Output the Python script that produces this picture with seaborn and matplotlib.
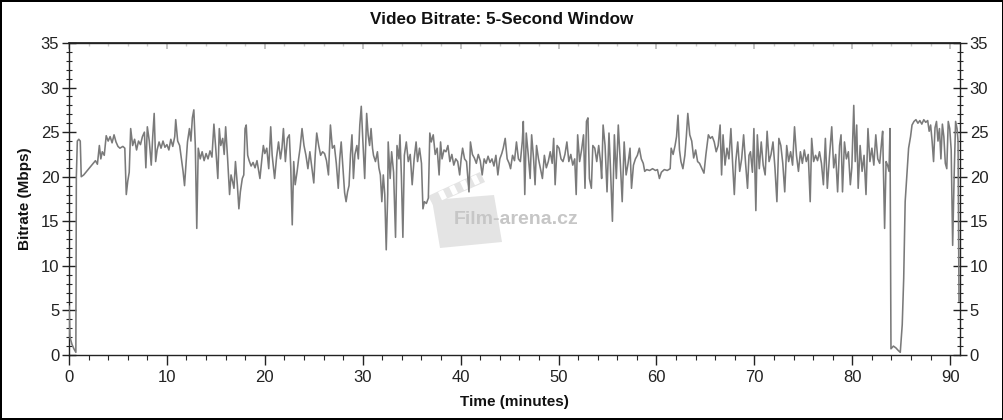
import matplotlib
matplotlib.use("Agg")
import matplotlib.pyplot as plt
from matplotlib.ticker import MultipleLocator
from matplotlib.patches import Polygon
import seaborn as sns
import pandas as pd

# ---- data ----
time_min = [
    0.0, 0.1, 0.3, 0.5, 0.7, 0.75, 0.85, 1.0, 1.15, 1.25, 1.5, 1.8, 2.1, 2.4, 2.7, 2.9,
    3.1, 3.25, 3.4, 3.6, 3.8, 4.0, 4.2, 4.4, 4.6, 4.8, 5.0, 5.2, 5.5, 5.7, 5.85, 6.0,
    6.15, 6.3, 6.5, 6.7, 6.9, 7.1, 7.3, 7.5, 7.7, 7.85, 8.0, 8.2, 8.4, 8.55, 8.7, 8.85,
    9.0, 9.2, 9.4, 9.6, 9.8, 10.0, 10.2, 10.4, 10.6, 10.8, 10.9, 11.1, 11.3, 11.5, 11.65, 11.8,
    11.95, 12.1, 12.3, 12.45, 12.6, 12.75, 12.9, 13.05, 13.2, 13.4, 13.6, 13.8, 14.0, 14.2, 14.4, 14.6,
    14.8, 15.0, 15.2, 15.35, 15.5, 15.7, 15.85, 16.0, 16.2, 16.4, 16.55, 16.7, 16.85, 17.0, 17.2, 17.35,
    17.5, 17.7, 17.85, 17.98, 18.1, 18.25, 18.4, 18.6, 18.8, 19.0, 19.2, 19.4, 19.5, 19.7, 19.85, 20.0,
    20.2, 20.4, 20.6, 20.75, 21.0, 21.2, 21.4, 21.6, 21.75, 21.9, 22.1, 22.3, 22.5, 22.65, 22.8, 22.95,
    23.1, 23.3, 23.45, 23.6, 23.8, 24.0, 24.2, 24.4, 24.6, 24.8, 25.0, 25.15, 25.3, 25.5, 25.7, 25.9,
    26.1, 26.3, 26.5, 26.7, 26.9, 27.1, 27.3, 27.5, 27.65, 27.8, 28.0, 28.15, 28.3, 28.45, 28.6, 28.75,
    28.9, 29.05, 29.2, 29.4, 29.55, 29.7, 29.85, 30.0, 30.2, 30.4, 30.55, 30.7, 30.85, 31.0, 31.1, 31.3,
    31.5, 31.65, 31.8, 31.95, 32.1, 32.25, 32.4, 32.55, 32.6, 32.8, 32.95, 33.15, 33.35, 33.5, 33.7, 33.8,
    33.95, 34.1, 34.25, 34.45, 34.65, 34.85, 35.05, 35.25, 35.45, 35.6, 35.8, 36.0, 36.15, 36.3, 36.5, 36.7,
    36.85, 37.0, 37.2, 37.4, 37.6, 37.8, 37.95, 38.1, 38.3, 38.5, 38.7, 38.9, 39.1, 39.3, 39.5, 39.7,
    39.9, 40.05, 40.2, 40.4, 40.6, 40.85, 41.0, 41.2, 41.4, 41.6, 41.8, 42.0, 42.2, 42.4, 42.6, 42.8,
    43.0, 43.2, 43.4, 43.6, 43.8, 44.0, 44.2, 44.35, 44.55, 44.75, 44.95, 45.1, 45.3, 45.5, 45.7, 45.9,
    46.1, 46.3, 46.4, 46.55, 46.7, 46.9, 47.1, 47.25, 47.45, 47.6, 47.75, 47.95, 48.15, 48.35, 48.55, 48.75,
    48.95, 49.15, 49.35, 49.5, 49.65, 49.85, 50.05, 50.25, 50.45, 50.65, 50.85, 51.05, 51.25, 51.45, 51.65, 51.8,
    51.95, 52.15, 52.35, 52.55, 52.7, 52.85, 53.0, 53.15, 53.35, 53.5, 53.7, 53.9, 54.1, 54.3, 54.4, 54.55,
    54.75, 54.95, 55.15, 55.3, 55.5, 55.7, 55.9, 56.1, 56.3, 56.5, 56.7, 56.9, 57.1, 57.3, 57.45, 57.65,
    57.85, 58.05, 58.25, 58.45, 58.65, 58.8, 59.0, 59.3, 59.6, 59.9, 60.1, 60.3, 60.5, 60.8, 61.1, 61.4,
    61.5, 61.7, 61.9, 62.05, 62.2, 62.35, 62.5, 62.7, 62.9, 63.05, 63.2, 63.4, 63.6, 63.8, 64.0, 64.2,
    64.4, 64.6, 64.85, 65.05, 65.3, 65.5, 65.7, 65.9, 66.1, 66.3, 66.5, 66.65, 66.8, 67.0, 67.2, 67.4,
    67.6, 67.8, 67.95, 68.1, 68.3, 68.5, 68.7, 68.9, 69.1, 69.3, 69.45, 69.6, 69.8, 69.95, 70.15, 70.3,
    70.5, 70.7, 70.9, 71.1, 71.3, 71.5, 71.7, 71.9, 72.1, 72.3, 72.5, 72.7, 72.9, 73.1, 73.3, 73.5,
    73.7, 73.9, 74.1, 74.3, 74.5, 74.7, 74.9, 75.1, 75.3, 75.5, 75.7, 75.85, 76.05, 76.25, 76.45, 76.65,
    76.85, 77.05, 77.25, 77.45, 77.65, 77.9, 78.1, 78.3, 78.5, 78.7, 78.85, 79.0, 79.2, 79.4, 79.6, 79.8,
    79.95, 80.15, 80.3, 80.45, 80.6, 80.8, 81.0, 81.2, 81.4, 81.6, 81.8, 82.0, 82.2, 82.4, 82.6, 82.8,
    83.0, 83.1, 83.3, 83.45, 83.6, 83.75, 83.85, 83.95, 84.2, 84.45, 84.7, 84.9, 85.1, 85.25, 85.4, 85.55,
    85.75, 85.95, 86.1, 86.3, 86.5, 86.7, 86.9, 87.1, 87.3, 87.5, 87.7, 87.85, 88.0, 88.15, 88.3, 88.45,
    88.6, 88.75, 88.9, 89.05, 89.2, 89.35, 89.5, 89.65, 89.8, 89.95, 90.1, 90.25, 90.4, 90.55, 90.7, 90.8,
    90.9,
]
bitrate_mbps = [
    5.5, 2.0, 1.2, 0.7, 0.3, 20.0, 24.0, 24.2, 24.0, 20.0, 20.2, 20.6, 21.0, 21.4, 21.8, 21.4,
    23.5, 22.0, 22.8, 22.4, 24.6, 24.0, 24.5, 23.8, 24.7, 23.9, 23.4, 23.2, 23.4, 23.2, 18.0, 19.5,
    20.5, 25.4, 23.5, 24.2, 23.0, 24.0, 23.6, 24.5, 25.0, 21.0, 25.6, 24.0, 21.3, 24.5, 27.1, 21.7,
    23.0, 23.9, 23.2, 24.0, 23.3, 23.6, 23.0, 24.2, 23.4, 24.5, 26.4, 24.0, 23.5, 21.8, 20.6, 19.0,
    21.5, 23.9, 25.4, 24.0, 26.6, 27.5, 23.5, 14.2, 23.2, 22.0, 22.8, 21.8, 22.6, 22.0, 22.9, 22.2,
    25.9, 23.0, 19.8, 25.4, 23.5, 24.3, 22.5, 25.6, 22.0, 18.0, 20.2, 19.5, 18.7, 21.7, 19.0, 16.4,
    18.3, 19.8, 20.2, 25.4, 25.8, 22.4, 21.8, 21.2, 21.6, 21.0, 21.8, 20.5, 19.8, 22.0, 23.5, 22.6,
    23.2, 20.9, 25.6, 22.4, 19.8, 22.2, 23.9, 22.0, 23.2, 25.4, 21.7, 24.3, 24.7, 21.0, 14.6, 21.7,
    19.1, 20.6, 22.0, 23.2, 25.4, 23.5, 22.4, 20.9, 22.8, 21.0, 19.3, 22.5, 24.9, 23.5, 22.4, 22.8,
    22.6, 21.8, 20.2, 25.8, 23.2, 23.5, 21.5, 18.7, 22.0, 23.9, 20.6, 18.2, 17.2, 18.3, 19.0, 22.5,
    24.7, 19.8, 22.5, 23.5, 22.0, 25.8, 27.9, 24.3, 19.8, 27.1, 24.7, 23.5, 25.4, 23.2, 22.4, 21.7,
    22.8, 21.0, 20.2, 17.2, 20.2, 18.0, 11.8, 18.0, 23.9, 19.8, 22.8, 20.5, 13.2, 23.5, 22.0, 24.7,
    20.0, 13.2, 22.4, 23.9, 21.7, 22.5, 19.1, 22.0, 23.9, 21.7, 23.2, 21.5, 16.4, 17.2, 17.0, 17.6,
    24.9, 23.9, 24.7, 22.5, 23.2, 20.2, 23.9, 22.0, 23.0, 22.8, 23.5, 21.7, 22.5, 21.3, 22.0, 21.7,
    20.2, 22.0, 23.2, 22.0, 21.7, 18.3, 23.9, 22.5, 22.1, 21.5, 22.5, 21.8, 20.2, 22.0, 21.5, 22.3,
    21.6, 22.0, 21.2, 22.4, 20.2, 22.0, 22.6, 23.2, 24.3, 22.0, 21.5, 20.9, 22.4, 21.8, 23.9, 22.0,
    21.7, 24.0, 26.2, 18.0, 24.9, 22.5, 19.8, 24.7, 22.0, 19.1, 23.5, 22.0, 20.9, 19.8, 22.4, 21.0,
    21.7, 22.8, 21.5, 24.3, 19.1, 23.5, 23.2, 22.0, 21.7, 22.5, 23.9, 21.7, 22.5, 21.3, 22.0, 18.0,
    24.7, 21.7, 23.0, 24.7, 18.7, 26.2, 26.6, 19.8, 18.7, 23.5, 23.2, 21.7, 23.5, 21.5, 19.8, 25.8,
    23.5, 18.3, 24.9, 21.0, 15.0, 24.7, 19.8, 25.8, 21.7, 17.2, 23.9, 20.2, 21.5, 23.2, 18.7, 21.3,
    22.0, 22.4, 23.2, 22.0, 21.5, 20.6, 20.8, 20.7, 20.9, 20.7, 20.8, 19.8, 20.5, 20.8, 20.7, 20.9,
    23.2, 22.5, 23.5, 24.5, 26.9, 23.0, 21.7, 20.9, 22.4, 24.5, 27.1, 24.7, 24.0, 22.1, 23.0, 21.7,
    21.5, 21.0, 20.4, 22.5, 24.7, 24.3, 24.5, 23.9, 22.8, 23.5, 25.8, 20.2, 24.7, 21.3, 23.2, 22.0,
    25.4, 21.0, 18.0, 21.7, 23.9, 20.6, 22.0, 24.7, 21.5, 18.7, 22.4, 22.8, 20.5, 25.4, 16.2, 24.7,
    20.9, 23.9, 21.3, 20.2, 25.1, 21.7, 22.5, 23.9, 21.0, 17.2, 24.3, 23.5, 21.5, 18.3, 23.5, 21.7,
    22.8, 21.3, 25.6, 22.4, 20.6, 22.8, 21.5, 23.0, 21.7, 22.5, 17.2, 24.3, 21.7, 22.4, 21.8, 22.8,
    21.5, 19.1, 24.3, 18.7, 22.0, 25.6, 21.0, 22.5, 18.3, 23.5, 24.7, 18.3, 23.9, 22.0, 22.8, 19.1,
    21.0, 28.0, 21.7, 25.8, 18.7, 23.5, 20.6, 22.4, 18.0, 25.4, 21.7, 23.2, 21.3, 24.7, 22.0, 21.5,
    24.0, 25.1, 14.2, 21.7, 21.3, 20.6, 25.4, 0.7, 1.0, 0.8, 0.5, 0.3, 3.4, 8.6, 17.2, 19.8,
    23.2, 24.5, 25.8, 26.2, 26.4, 26.0, 26.3, 25.9, 26.4, 26.1, 26.3, 25.1, 25.8, 24.0, 21.7, 25.5,
    26.2, 24.0, 25.4, 22.0, 25.9, 24.5, 21.5, 20.9, 26.2, 25.4, 23.0, 12.3, 20.0, 26.2, 25.4, 24.0,
    6.0,
]
title_text = "Video Bitrate: 5-Second Window"
x_label = "Time (minutes)"
y_label = "Bitrate (Mbps)"
x_ticks = [0, 10, 20, 30, 40, 50, 60, 70, 80, 90]
y_ticks = [0, 5, 10, 15, 20, 25, 30, 35]
watermark = "Film-arena.cz"

df = pd.DataFrame({"time": time_min, "bitrate": bitrate_mbps})

# ---- style ----
sns.set_theme(style="white")
plt.rcParams["font.family"] = ["Liberation Sans", "DejaVu Sans"]

W, H = 1004, 420
fig = plt.figure(figsize=(W / 100, H / 100), dpi=100)
fig.patch.set_facecolor("white")
fig.patch.set_edgecolor("black")
fig.patch.set_linewidth(1.5)

ax = fig.add_axes([69 / W, 65 / H, (960 - 69) / W, (355 - 43) / H])

sns.lineplot(data=df, x="time", y="bitrate", ax=ax, color="#7a7a7a",
             linewidth=1.15, estimator=None, sort=False, zorder=3)

ax.set_xlim(0, 91)
ax.set_ylim(0, 35)
ax.set_xticks(x_ticks)
ax.set_yticks(y_ticks)
ax.xaxis.set_minor_locator(MultipleLocator(2))
ax.yaxis.set_minor_locator(MultipleLocator(1))

for s in ["left", "right", "bottom", "top"]:
    ax.spines[s].set_visible(True)
    ax.spines[s].set_color("#222222")
    ax.spines[s].set_linewidth(1.0)

ax.tick_params(axis="y", which="major", direction="inout", length=10, width=1,
               left=True, right=True, labelleft=True, labelright=True,
               labelsize=12, colors="#222222", pad=2)
ax.tick_params(axis="y", which="minor", direction="inout", length=5, width=0.8,
               left=True, right=True)
ax.tick_params(axis="x", which="major", direction="out", length=7, width=1,
               bottom=True, top=False, labelsize=12, colors="#222222", pad=4)
ax.tick_params(axis="x", which="minor", direction="out", length=3.5, width=0.8,
               bottom=True, top=False)
ax.grid(False)

# faint inward ticks along the top edge
sec = ax.secondary_xaxis("top")
sec.set_xticks(x_ticks)
sec.xaxis.set_minor_locator(MultipleLocator(2))
sec.tick_params(which="major", direction="in", length=4, color="#bbbbbb", labeltop=False)
sec.tick_params(which="minor", direction="in", length=2, color="#cccccc")
sec.spines["top"].set_color("#222222")

ax.set_xlabel(x_label, fontsize=11, fontweight="bold", labelpad=7, color="#111111")
ax.set_ylabel(y_label, fontsize=11, fontweight="bold", labelpad=6, color="#111111")
fig.text(0.5, 1 - 20 / H, title_text, ha="center", va="center",
         fontsize=12.3, fontweight="bold", color="#111111")


# ---- watermark (clapperboard + text) behind the line, figure pixel coords ----
def fpx(x, y):
    return (x / W, 1 - y / H)


body = [fpx(432, 200), fpx(494, 195), fpx(502, 242), fpx(440, 248)]
clap = [fpx(428, 196), fpx(480, 172), fpx(485, 182), fpx(433, 205)]
for poly in (body, clap):
    ax.add_patch(Polygon(poly, closed=True, transform=fig.transFigure,
                         facecolor="#e4e4e4", edgecolor="none", zorder=1,
                         clip_on=False))
for k in range(4):
    x0 = 438 + k * 11
    y0 = 192 - k * 5
    stripe = [fpx(x0, y0), fpx(x0 + 5, y0 - 2.3), fpx(x0 + 9, y0 + 6), fpx(x0 + 4, y0 + 8.3)]
    ax.add_patch(Polygon(stripe, closed=True, transform=fig.transFigure,
                         facecolor="white", edgecolor="none", zorder=1.5,
                         clip_on=False))

ax.text(516 / W, 1 - 219 / H, watermark, transform=fig.transFigure,
        ha="center", va="center", fontsize=14, fontweight="bold",
        color="#c6c6c6", zorder=2)

fig.savefig("out.png", dpi=100, facecolor="white", edgecolor="black")
